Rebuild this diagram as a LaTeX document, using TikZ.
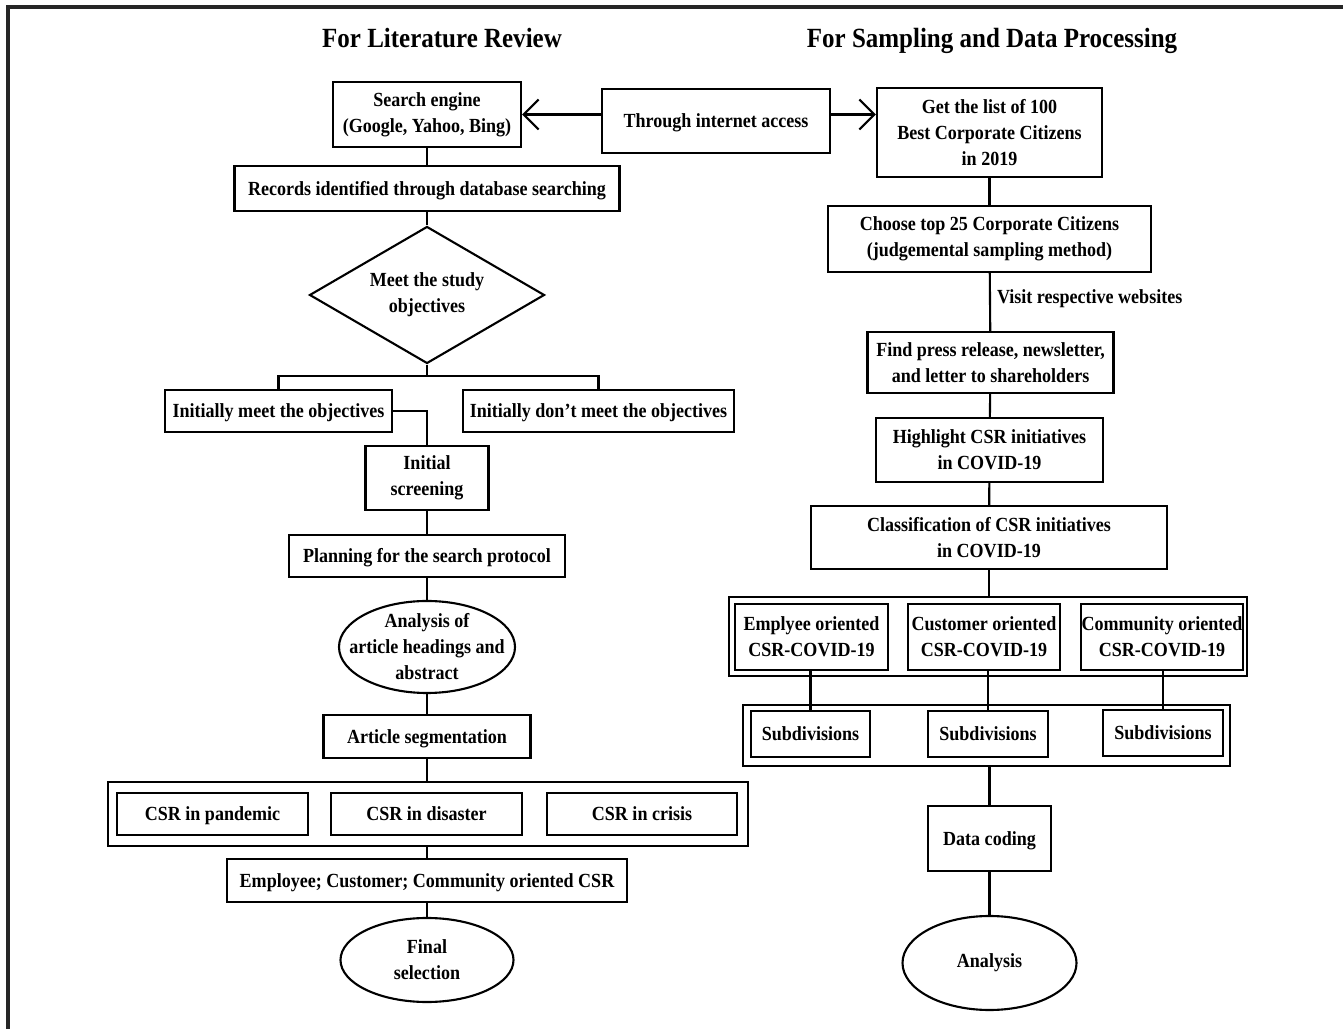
\documentclass[tikz,border=0pt]{standalone}
\usepackage{fontspec}
\setmainfont{Liberation Serif}[FakeStretch=0.9]
\usetikzlibrary{shapes.geometric,arrows.meta}

\tikzset{
  txt/.style={font=\bfseries\fontsize{5.7}{7.4}\selectfont, align=center},
  box/.style={txt, draw, line width=0.6pt, inner sep=0pt},
  one/.style={box, text height=5pt, text depth=1.2pt},
  grp/.style={draw, line width=0.6pt, inner sep=0pt},
  oval/.style={txt, ellipse, draw, line width=0.6pt, inner xsep=-0.2cm, inner ysep=-0.05cm},
  dia/.style={txt, diamond, draw, line width=0.6pt, inner sep=0pt, aspect=1.7},
  ttl/.style={font=\bfseries\fontsize{7.9}{9}\selectfont, anchor=base},
  sz/.style 2 args={minimum width=#1cm, minimum height=#2cm},
  lnk/.style={line width=0.6pt},
  arr/.style={lnk, -{Straight Barb[length=0.15cm, width=0.3cm]}},
}

\begin{document}
\begin{tikzpicture}
	%%%%% START %%%%%
	\useasboundingbox (0,0) rectangle (13.43,-10.29);
	\draw[line width=0.9pt, black!85] (13.43,-0.07) -- (0.08,-0.07) -- (0.08,-10.29);
	
	\node[ttl] (t1) at (4.42,-0.48) {For Literature Review};
	\node[ttl] (t2) at (9.92,-0.48) {For Sampling and Data Processing};
	
	% literature review
	\node[box, sz={1.88}{0.65}] (se) at (4.27,-1.145) {Search engine\\(Google, Yahoo, Bing)};
	\node[one, sz={2.28}{0.64}] (tia) at (7.16,-1.21) {Through internet access};
	\node[one, sz={3.85}{0.45}] (rec) at (4.27,-1.885) {Records identified through database searching};
	\node[dia, sz={2.35}{1.37}] (obj) at (4.27,-2.95) {Meet the study\\objectives};
	\coordinate (split) at (4.27,-3.76);
	\node[one, sz={2.27}{0.42}] (imo) at (2.785,-4.11) {Initially meet the objectives};
	\node[one, sz={2.71}{0.42}] (idmo) at (5.985,-4.11) {Initially don't meet the objectives};
	\node[box, sz={1.23}{0.64}] (isc) at (4.27,-4.78) {Initial\\screening};
	\node[one, sz={2.76}{0.42}] (plan) at (4.27,-5.56) {Planning for the search protocol};
	\node[oval, sz={1.76}{0.92}] (ana) at (4.27,-6.47) {Analysis of\\article headings and\\abstract};
	\node[one, sz={2.07}{0.43}] (seg) at (4.27,-7.365) {Article segmentation};
	\node[grp, sz={6.40}{0.64}] (grp1) at (4.28,-8.14) {};
	\node[one, sz={1.91}{0.42}] (csr1) at (2.125,-8.14) {CSR in pandemic};
	\node[one, sz={1.91}{0.42}] (csr2) at (4.265,-8.14) {CSR in disaster};
	\node[one, sz={1.90}{0.42}] (csr3) at (6.42,-8.14) {CSR in crisis};
	\node[one, sz={4.00}{0.43}] (emp) at (4.27,-8.805) {Employee; Customer; Community oriented CSR};
	\node[oval, sz={1.73}{0.84}] (fin) at (4.27,-9.60) {Final\\selection};
	
	% sampling and data processing
	\node[box, sz={2.25}{0.89}] (gl) at (9.895,-1.325) {Get the list of 100\\Best Corporate Citizens\\in 2019};
	\node[box, sz={3.23}{0.66}] (ch) at (9.895,-2.39) {Choose top 25 Corporate Citizens\\(judgemental sampling method)};
	\node[box, sz={2.46}{0.61}] (fp) at (9.905,-3.625) {Find press release, newsletter,\\and letter to shareholders};
	\node[box, sz={2.27}{0.64}] (hl) at (9.895,-4.50) {Highlight CSR initiatives\\in COVID-19};
	\node[box, sz={3.56}{0.63}] (cl) at (9.89,-5.375) {Classification of CSR initiatives\\in COVID-19};
	\node[grp, sz={5.18}{0.79}] (grp2) at (9.88,-6.365) {};
	\node[box, sz={1.53}{0.66}] (e1) at (8.115,-6.37) {Emplyee oriented\\CSR-COVID-19};
	\node[box, sz={1.52}{0.66}] (c1) at (9.84,-6.37) {Customer oriented\\CSR-COVID-19};
	\node[box, sz={1.62}{0.66}] (m1) at (11.62,-6.37) {Community oriented\\CSR-COVID-19};
	\node[grp, sz={4.87}{0.61}] (grp3) at (9.865,-7.355) {};
	\node[one, sz={1.19}{0.46}] (s1) at (8.105,-7.34) {Subdivisions};
	\node[one, sz={1.20}{0.46}] (s2) at (9.88,-7.34) {Subdivisions};
	\node[one, sz={1.20}{0.46}] (s3) at (11.63,-7.33) {Subdivisions};
	\node[one, sz={1.23}{0.65}] (dc) at (9.895,-8.385) {Data coding};
	\node[oval, sz={1.74}{0.94}] (an) at (9.895,-9.63) {Analysis};
	
	% connectors
	\draw[arr] (tia.west |- se.east) -- (se.east);
	\draw[arr] (tia.east |- se.east) -- (gl.west |- se.east);
	\draw[lnk] (se) -- (rec);
	\draw[lnk] (rec) -- (obj);
	\draw[lnk] (obj.south) -- (split);
	\draw[lnk] (imo.north) |- (split) -| (idmo.north);
	\draw[lnk] (imo.east) -| (isc.north);
	\draw[lnk] (isc) -- (plan);
	\draw[lnk] (plan) -- (ana);
	\draw[lnk] (ana) -- (seg);
	\draw[lnk] (seg) -- (seg |- grp1.north);
	\draw[lnk] (seg |- grp1.south) -- (emp);
	\draw[lnk] (emp) -- (fin);
	
	\draw[lnk] (gl) -- (ch);
	\draw[lnk] (ch) -- node[txt, right, inner xsep=0.06cm, pos=0.45] (vis) {Visit respective websites} (fp);
	\draw[lnk] (fp) -- (hl);
	\draw[lnk] (hl) -- (cl);
	\draw[lnk] (cl) -- (cl |- grp2.north);
	\draw[lnk] (s1.north |- e1.south) -- (s1.north);
	\draw[lnk] (s2.north |- c1.south) -- (s2.north);
	\draw[lnk] (s3.north |- m1.south) -- (s3.north);
	\draw[lnk] (dc.north |- grp3.south) -- (dc.north);
	\draw[lnk] (dc) -- (an);
	%%%%% END %%%%%
\end{tikzpicture}
\end{document}
